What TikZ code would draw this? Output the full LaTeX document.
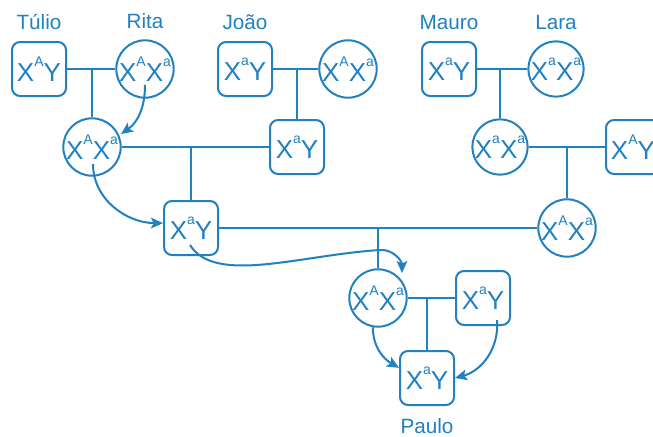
\documentclass[tikz,border=0pt]{standalone}
\usepackage{fontspec}
\setmainfont{Liberation Sans}
\definecolor{pedBlue}{RGB}{32,128,192}
\usetikzlibrary{shapes,arrows.meta,positioning,calc}
\newcommand{\gs}[1]{\raisebox{11.5pt}{\fontsize{10.5}{10.5}\selectfont #1}}

\begin{document}
\begin{tikzpicture}[
  x=0.75pt, y=0.75pt,
  male/.style={
    draw=pedBlue, line width=1.5pt, rounded corners=6pt, text=pedBlue,
    minimum size=40.5pt, inner sep=0pt, font=\fontsize{19.5}{19.5}\selectfont
  },
  female/.style={
    circle, draw=pedBlue, line width=1.5pt, text=pedBlue,
    minimum size=41.5pt, inner sep=0pt, font=\fontsize{19.5}{19.5}\selectfont
  },
  pname/.style={text=pedBlue, inner sep=0pt, font=\fontsize{15.5}{15.5}\selectfont},
  conn/.style={draw=pedBlue, line width=1.5pt},
  arr/.style={-{Stealth[length=9pt,width=8pt,inset=2pt]}, draw=pedBlue, line width=1.5pt}
]
  \useasboundingbox (0,0) rectangle (653,-436);

  \node[male] (T) at (39,-69) {X\gs{A}Y};
  \node[female] (R) at (145,-69) {X\gs{A}X\gs{a}};
  \node[male] (J) at (245,-69) {X\gs{a}Y};
  \node[female] (W) at (348,-69) {X\gs{A}X\gs{a}};
  \node[male] (M) at (449,-69) {X\gs{a}Y};
  \node[female] (L) at (556,-69) {X\gs{a}X\gs{a}};
  \node[female] (D1) at (92,-147) {X\gs{A}X\gs{a}};
  \node[male] (S1) at (297,-147) {X\gs{a}Y};
  \node[female] (D2) at (500,-147) {X\gs{a}X\gs{a}};
  \node[male] (S2) at (633,-147) {X\gs{A}Y};
  \node[male] (G1) at (191,-228) {X\gs{a}Y};
  \node[female] (G2) at (567,-228) {X\gs{A}X\gs{a}};
  \node[female] (MP) at (378,-298) {X\gs{A}X\gs{a}};
  \node[male] (FP) at (483,-298) {X\gs{a}Y};
  \node[male] (P) at (427,-378) {X\gs{a}Y};

  \node[pname, above=8pt of T] (nT) {Túlio};
  \node[pname, above=8pt of R] (nR) {Rita};
  \node[pname, above=8pt of J] (nJ) {João};
  \node[pname, above=8pt of M] (nM) {Mauro};
  \node[pname, above=8pt of L] (nL) {Lara};
  \node[pname, below=9pt of P] (nP) {Paulo};

  \draw[conn] (T) -- (R);
  \draw[conn] (D1) -- (D1 |- T);
  \draw[conn] (J) -- (W);
  \draw[conn] (S1) -- (S1 |- J);
  \draw[conn] (M) -- (L);
  \draw[conn] (D2) -- (D2 |- M);
  \draw[conn] (D1) -- (S1);
  \draw[conn] (G1) -- (G1 |- D1);
  \draw[conn] (D2) -- (S2);
  \draw[conn] (G2) -- (G2 |- D2);
  \draw[conn] (G1) -- (G2);
  \draw[conn] (MP) -- (MP |- G1);
  \draw[conn] (MP) -- (FP);
  \draw[conn] (P) -- (P |- MP);

  \draw[arr] ($(R)+(0,-16)$) to[out=-90,in=35] ($(D1)+(29,13)$);
  \draw[arr] ($(D1)+(1,-17)$) to[out=-90,in=180] (G1.170);
  \draw[arr] ($(G1)+(-1,-17)$) .. controls (215,-285) and (300,-255) .. (380,-250)
    to[out=5,in=90] ($(MP)+(24,25)$);
  \draw[arr] (MP.260) to[out=-90,in=150] (P.160);
  \draw[arr] ($(FP)+(14,-22)$) to[out=-85,in=15] (P.east);
\end{tikzpicture}
\end{document}
